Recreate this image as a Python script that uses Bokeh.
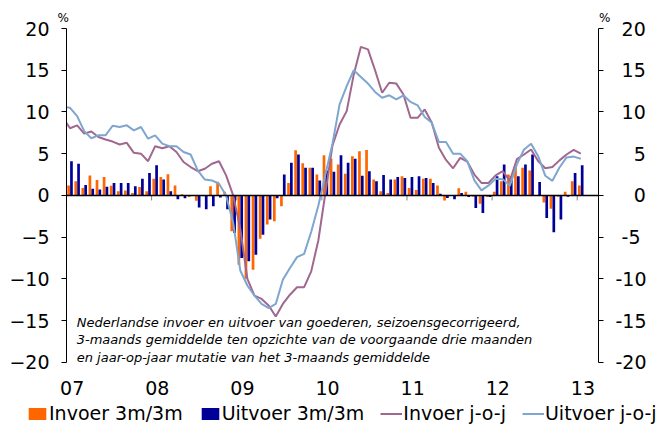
from bokeh.plotting import figure
from bokeh.layouts import column
from bokeh.models import Range1d, LinearAxis, FixedTicker, Legend, LegendItem, Span, Label, Title
from bokeh.embed import file_html
from bokeh.resources import INLINE

# ---- data (monthly, Jan 2007 .. Jan 2013) ----
year_labels = ["07", "08", "09", "10", "11", "12", "13"]
y_ticks = [-20, -15, -10, -5, 0, 5, 10, 15, 20]

invoer_3m3m = [1.2, 1.7, 0.9, 2.4, 1.85, 2.2, 1.15, 0.5, 0.6, 0.3, 1.0, 0.5,
               2.0, 2.2, 2.55, 1.2, 0.15, -0.2, -0.65, -0.1, 1.1, 1.65, 0.45, -4.3,
               -8.3, -10.0, -8.9, -5.2, -3.5, -3.1, -1.3, 1.5, 5.4, 3.85, 3.3, 2.5,
               4.8, 4.4, 3.7, 2.6, 4.7, 5.3, 5.45, 1.9, 0.5, 0.3, 1.9, 2.3,
               0.9, 0.65, 2.0, 2.0, 1.2, -0.6, 0.05, 0.85, 0.45, -0.15, -1.0, -0.2,
               0.45, 1.7, 2.5, 3.7, 3.3, 3.0, 0.05, -0.85, -1.6, -0.15, 0.45, 1.7,
               1.2]
uitvoer_3m3m = [4.1, 3.8, 1.25, 0.8, 0.7, 1.05, 1.5, 1.5, 1.5, 1.1, 2.0, 2.7,
                3.6, 1.9, 0.5, -0.45, -0.35, -0.05, -1.45, -1.65, -1.3, -0.25, -1.65, -4.5,
                -7.5, -7.9, -7.1, -4.7, -2.9, -0.35, 2.5, 3.9, 4.9, 3.3, 3.3, 1.8,
                3.0, 2.85, 4.8, 3.9, 4.4, 2.35, 2.9, 1.7, 2.45, 1.9, 2.2, 2.1,
                2.2, 2.3, 2.1, 1.5, 0.2, -0.3, -0.45, 0.3, -0.2, -1.5, -2.1, -0.2,
                2.3, 3.7, 2.3, 2.3, 3.7, 4.9, 1.6, -2.7, -4.4, -2.9, -0.15, 2.7,
                3.6]
# year-on-year lines: Dec 2006 .. Jan 2013
invoer_joj = [9.3, 8.05, 8.4, 7.4, 7.65, 7.0, 6.7, 6.45, 6.1, 6.3, 5.1, 5.0,
              4.1, 5.9, 5.65, 5.9, 5.2, 4.0, 3.4, 2.9, 3.2, 3.8, 4.1, 2.4,
              0.0, -4.0, -10.0, -12.0, -12.4, -13.2, -14.5, -13.0, -11.9, -11.0, -11.0, -9.1,
              -5.4, 0.3, 6.0, 8.5, 10.1, 14.5, 17.8, 17.5, 15.0, 12.3, 13.5, 13.4,
              12.1, 9.3, 9.3, 10.3, 8.7, 5.7, 4.25, 3.25, 4.5, 4.05, 2.5, 1.5,
              1.5, 2.4, 2.9, 1.75, 4.35, 4.9, 5.5, 4.1, 3.25, 3.4, 4.2, 4.9,
              5.45, 5.0]
uitvoer_joj = [10.6, 10.5, 9.5, 7.7, 6.85, 7.2, 7.2, 8.35, 8.2, 8.4, 7.8, 8.2,
               6.8, 7.2, 6.2, 5.9, 5.9, 5.2, 4.9, 3.0, 1.9, 1.8, 1.4, 0.0,
               -3.3, -9.0, -10.8, -12.0, -13.0, -13.5, -13.0, -10.1, -8.7, -7.4, -7.0, -4.35,
               -1.25, 2.5, 6.2, 10.9, 13.1, 15.0, 14.2, 13.4, 12.4, 11.7, 12.0, 11.5,
               12.0, 11.2, 10.8, 9.4, 8.7, 6.4, 6.4, 5.0, 5.0, 4.1, 1.8, 0.6,
               1.2, 2.0, 1.95, 1.15, 3.75, 5.5, 6.2, 4.7, 2.35, 1.75, 3.35, 4.55,
               4.65, 4.4]

series_names = ["Invoer 3m/3m", "Uitvoer 3m/3m", "Invoer j-o-j", "Uitvoer j-o-j"]
note_lines = ["Nederlandse invoer en uitvoer van goederen, seizoensgecorrigeerd,",
              "3-maands gemiddelde ten opzichte van de voorgaande drie maanden",
              "en jaar-op-jaar mutatie van het 3-maands gemiddelde"]
unit_label = "%"

ORANGE = "#FF6600"
NAVY = "#000099"
MAUVE = "#A0678F"
LBLUE = "#7EA6CF"
FONT = "DejaVu Sans"
NAN = float("nan")

bar_x = [m + 0.5 for m in range(len(invoer_3m3m))]
line_x = [k - 0.5 for k in range(len(invoer_joj))]
year_pos = [12 * i for i in range(len(year_labels))]
label_pos = [12 * i + 0.8 for i in range(len(year_labels))]


def right_aligned(v):
    # pad with digit / punctuation spaces so the right-axis labels line up on the right
    s = str(v)
    full = "-20"
    lead = full[:len(full) - len(s)]
    return "".join("\u2008" if ch == "-" else "\u2007" for ch in lead) + s


p = figure(width=661, height=400, output_backend="svg", toolbar_location=None,
           x_range=Range1d(0, 75), y_range=Range1d(-20.5, 20),
           min_border_left=66, min_border_right=63, min_border_top=28, min_border_bottom=34)
p.outline_line_color = None
p.xgrid.visible = False
p.ygrid.visible = False
p.background_fill_color = "white"

# "%" unit marks above both axes
p.add_layout(Title(text=unit_label + "\u00a0" * 139 + unit_label, align="left", offset=-9,
                   standoff=7, text_font=FONT, text_font_size="12px",
                   text_font_style="normal", text_color="black"), "above")

# x axis (labels only)
xa = p.xaxis[0]
xa.ticker = FixedTicker(ticks=label_pos)
xa.major_label_overrides = {pos: lab for pos, lab in zip(label_pos, year_labels)}
xa.axis_line_color = None
xa.major_tick_line_color = None
xa.major_tick_out = 0
xa.major_tick_in = 0
xa.minor_tick_line_color = None
xa.major_label_standoff = 14
xa.major_label_text_font = FONT
xa.major_label_text_font_size = "19px"
xa.major_label_text_color = "black"

yticks = FixedTicker(ticks=y_ticks)
ya = p.yaxis[0]
ya.ticker = yticks
ya.bounds = (-20, 20)
ya.major_tick_out = 5
ya.major_tick_in = 0
ya.minor_tick_line_color = None
ya.major_label_standoff = 12
ya.major_label_text_font = FONT
ya.major_label_text_font_size = "19px"
ya.major_label_text_color = "black"
ya.axis_line_color = "black"

ra = LinearAxis(ticker=yticks, bounds=(-20, 20))
ra.major_label_overrides = {v: right_aligned(v) for v in y_ticks}
ra.major_tick_out = 5
ra.major_tick_in = 0
ra.minor_tick_line_color = None
ra.major_label_standoff = 12
ra.major_label_text_font = FONT
ra.major_label_text_font_size = "19px"
ra.major_label_text_color = "black"
ra.axis_line_color = "black"
p.add_layout(ra, "right")

# bars
r_inv = p.vbar(x=[b - 0.2 for b in bar_x], top=invoer_3m3m, width=0.38,
               fill_color=ORANGE, line_color=None)
r_uit = p.vbar(x=[b + 0.2 for b in bar_x], top=uitvoer_3m3m, width=0.38,
               fill_color=NAVY, line_color=None)

# zero line + year ticks
p.add_layout(Span(location=0, dimension="width", line_color="black", line_width=1.5))
p.segment(x0=year_pos, y0=[0] * len(year_pos), x1=year_pos, y1=[-0.6] * len(year_pos),
          line_color="#808080", line_width=1)

# lines
r_ij = p.line(line_x, invoer_joj, line_color=MAUVE, line_width=2)
r_uj = p.line(line_x, uitvoer_joj, line_color=LBLUE, line_width=2)

# note
for i, t in enumerate(note_lines):
    p.add_layout(Label(x=1.44, y=-15.2 - 2.1 * i, text=t, text_font=FONT,
                       text_font_size="13px", text_font_style="italic",
                       text_baseline="middle", text_color="black"))

# ---- legend strip below the chart ----
lg = figure(width=661, height=25, output_backend="svg", toolbar_location=None,
            x_range=Range1d(0, 1), y_range=Range1d(0, 1),
            x_axis_type=None, y_axis_type=None,
            min_border_left=0, min_border_right=0, min_border_top=0, min_border_bottom=0)
lg.outline_line_color = None
lg.xgrid.visible = False
lg.ygrid.visible = False
for fig in (p, lg):
    try:
        fig.frame_align = False
    except Exception:
        pass

# legend proxies (no visible data of their own)
d_inv = lg.vbar(x=[NAN], top=[NAN], width=0.1, fill_color=ORANGE, line_color=None)
d_uit = lg.vbar(x=[NAN], top=[NAN], width=0.1, fill_color=NAVY, line_color=None)
d_ij = lg.line(x=[NAN, NAN], y=[NAN, NAN], line_color=MAUVE, line_width=2)
d_uj = lg.line(x=[NAN, NAN], y=[NAN, NAN], line_color=LBLUE, line_width=2)

legend = Legend(items=[LegendItem(label=n, renderers=[r]) for n, r in
                       zip(series_names, [d_inv, d_uit, d_ij, d_uj])],
                orientation="horizontal", location=(26, 1),
                background_fill_alpha=0, border_line_color=None,
                label_text_font=FONT, label_text_font_size="19px", label_text_color="black",
                label_height=22,
                glyph_width=22, glyph_height=15, label_standoff=1,
                spacing=16, padding=0, margin=0)
lg.add_layout(legend)

layout = column(p, lg, spacing=0)
open("out.html", "w").write(file_html(layout, INLINE))
